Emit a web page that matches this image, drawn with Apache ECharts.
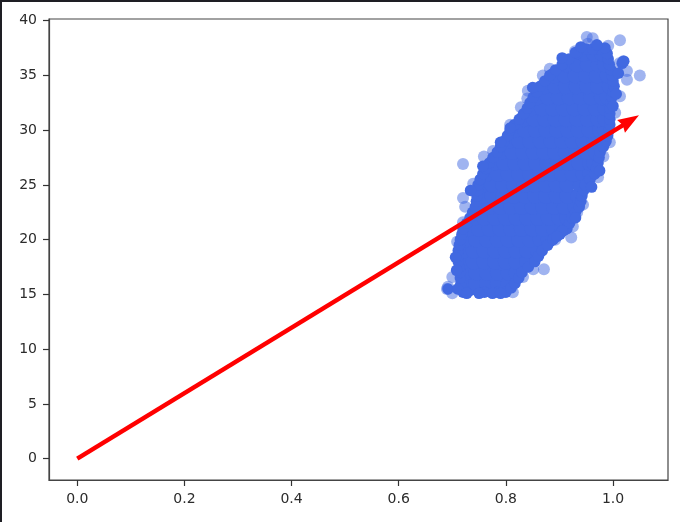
<!DOCTYPE html>
<html><head><meta charset="utf-8">
<style>html,body{margin:0;padding:0;background:#fff;overflow:hidden}
#c{position:absolute;left:0;top:0;width:680px;height:522px}
#t{position:absolute;left:0;top:0;width:680px;height:2px;background:#1e1e24}
#l{position:absolute;left:0;top:0;width:2px;height:522px;background:#1e1e24}</style>
<script src="https://cdn.jsdelivr.net/npm/echarts@6/dist/echarts.min.js"></script>
</head><body><div id="c"></div><div id="t"></div><div id="l"></div>
<script>
const xTicks=[0,0.2,0.4,0.6,0.8,1.0];
const yTicks=[0,5,10,15,20,25,30,35,40];
const xRange=[-0.0528,1.1026];
const yRange=[-1.945,40.15];
const arrowFrom=[0,0];
const arrowHead=[1.0317,30.85];
const loosePoints=[[0.72,26.9],[1.013,38.2],[1.05,35],[0.951,38.5],[0.962,38.4],[0.953,37.9],[1.019,36.3],[1.012,36.1],[1.026,35.4],[1.026,34.6],[1.013,33.1],[1.004,31.6],[0.994,28.9],[0.982,27.6],[0.882,35.6],[0.869,35],[0.841,33.6],[0.84,32.9],[0.828,32.1],[0.808,30.5],[0.759,27.6],[0.776,28.1],[0.929,37.2],[0.991,37.7],[0.72,23.8],[0.739,25.1],[0.871,17.3],[0.922,20.2],[0.972,25.7],[0.944,23.2],[0.933,22.5],[0.925,21.2],[0.892,20],[0.832,16.6],[0.813,15.2],[0.851,17.3],[0.70,16.6],[0.69,15.5],[0.692,15.7],[0.70,15.1],[0.709,19.8],[0.724,23],[0.72,21.6]];
const leftEdge=[[0.72,15.2],[0.718,15.6],[0.716,16],[0.715,16.5],[0.715,17],[0.713,17.5],[0.711,18],[0.711,18.5],[0.711,19],[0.713,19.5],[0.715,20],[0.718,20.5],[0.72,21],[0.727,21.5],[0.733,22],[0.738,22.5],[0.743,23],[0.745,23.5],[0.746,24],[0.747,24.5],[0.748,25],[0.752,25.5],[0.757,26],[0.763,26.5],[0.769,27],[0.776,27.5],[0.784,28],[0.79,28.5],[0.797,29],[0.803,29.5],[0.808,30],[0.816,30.5],[0.825,31],[0.833,31.5],[0.84,32],[0.845,32.5],[0.851,33],[0.858,33.5],[0.864,34],[0.873,34.5],[0.882,35],[0.893,35.5],[0.905,36],[0.918,36.5],[0.933,37],[0.95,37.4]];
const rightEdge=[[0.76,15.2],[0.785,15.2],[0.80,15.2],[0.81,15.6],[0.817,16],[0.824,16.5],[0.83,17],[0.842,17.5],[0.854,18],[0.861,18.5],[0.868,19],[0.878,19.5],[0.888,20],[0.901,20.5],[0.914,21],[0.919,21.5],[0.923,22],[0.93,22.5],[0.937,23],[0.94,23.5],[0.942,24],[0.945,24.5],[0.948,25],[0.957,25.5],[0.966,26],[0.969,26.5],[0.972,27],[0.974,27.5],[0.976,28],[0.982,28.5],[0.987,29],[0.99,29.5],[0.993,30],[0.994,30.5],[0.994,31],[0.994,31.5],[0.994,32],[0.996,32.5],[0.998,33],[1.0,33.5],[1.002,34],[1.0,34.5],[0.998,35],[0.996,35.5],[0.993,36],[0.991,36.5],[0.989,37],[0.975,37.4],[0.962,37.4]];
const bumpPoints=[[0.905,36.6],[0.93,37.1],[0.85,33.9],[0.79,28.9],[0.808,30.2],[0.757,26.7],[0.734,24.5],[0.706,18.4],[0.708,17.2],[0.692,15.5],[0.71,15.5],[0.727,15.1],[0.75,15.1],[0.775,15.1],[0.79,15.1],[1.017,36.1],[1.02,36.3],[1.01,35.2],[1.006,33.3],[1.0,32.2],[0.985,37.5],[0.97,37.8],[0.94,37.6],[0.905,20.8],[0.895,20.3],[0.93,22],[0.96,24.8],[0.975,26.3]];
const corePoints=[
[0.73,15.5],[0.75,15.5],[0.77,15.5],[0.79,15.5],
[0.725,16],[0.745,16],[0.765,16],[0.785,16],[0.805,16],
[0.725,17],[0.745,17],[0.765,17],[0.785,17],[0.805,17],[0.82,17],
[0.72,18],[0.74,18],[0.76,18],[0.78,18],[0.80,18],[0.82,18],[0.84,18],
[0.72,19],[0.74,19],[0.76,19],[0.78,19],[0.80,19],[0.82,19],[0.84,19],[0.86,19],
[0.725,20],[0.745,20],[0.765,20],[0.785,20],[0.805,20],[0.825,20],[0.845,20],[0.865,20],[0.88,20],
[0.73,21],[0.75,21],[0.77,21],[0.79,21],[0.81,21],[0.83,21],[0.85,21],[0.87,21],[0.89,21],[0.905,21],
[0.74,22],[0.76,22],[0.78,22],[0.80,22],[0.82,22],[0.84,22],[0.86,22],[0.88,22],[0.90,22],[0.915,22],
[0.75,23],[0.77,23],[0.79,23],[0.81,23],[0.83,23],[0.85,23],[0.87,23],[0.89,23],[0.91,23],[0.93,23],
[0.755,24],[0.775,24],[0.795,24],[0.815,24],[0.835,24],[0.855,24],[0.875,24],[0.895,24],[0.915,24],[0.935,24],
[0.755,25],[0.775,25],[0.795,25],[0.815,25],[0.835,25],[0.855,25],[0.875,25],[0.895,25],[0.915,25],[0.94,25],
[0.765,26],[0.785,26],[0.805,26],[0.825,26],[0.845,26],[0.865,26],[0.885,26],[0.905,26],[0.925,26],[0.945,26],[0.958,26],
[0.777,27],[0.797,27],[0.817,27],[0.837,27],[0.857,27],[0.877,27],[0.897,27],[0.917,27],[0.937,27],[0.957,27],[0.965,27],
[0.792,28],[0.812,28],[0.832,28],[0.852,28],[0.872,28],[0.892,28],[0.912,28],[0.932,28],[0.952,28],[0.968,28],
[0.805,29],[0.825,29],[0.845,29],[0.865,29],[0.885,29],[0.905,29],[0.925,29],[0.945,29],[0.965,29],[0.98,29],
[0.816,30],[0.836,30],[0.856,30],[0.876,30],[0.896,30],[0.916,30],[0.936,30],[0.956,30],[0.976,30],[0.985,30],
[0.833,31],[0.853,31],[0.873,31],[0.893,31],[0.913,31],[0.933,31],[0.953,31],[0.973,31],[0.986,31],
[0.848,32],[0.868,32],[0.888,32],[0.908,32],[0.928,32],[0.948,32],[0.968,32],[0.986,32],
[0.859,33],[0.879,33],[0.899,33],[0.919,33],[0.939,33],[0.959,33],[0.979,33],[0.99,33],
[0.872,34],[0.892,34],[0.912,34],[0.932,34],[0.952,34],[0.972,34],[0.994,34],
[0.89,35],[0.91,35],[0.93,35],[0.95,35],[0.97,35],[0.99,35],
[0.913,36],[0.933,36],[0.953,36],[0.973,36],[0.985,36],
[0.945,37],[0.965,37],[0.98,37]
];
const solid='#4169e1';
const ink='#2b2b2b';
const chart=echarts.init(document.getElementById('c'),null,{renderer:'canvas'});
const axisCommon={axisLine:{onZero:false,show:true,lineStyle:{color:'#444',width:1.2}},
  axisTick:{show:true,length:6,lineStyle:{color:'#333',width:1.2}},splitLine:{show:false}};
chart.setOption({animation:false,
 grid:{left:49,right:12,top:19,bottom:42,show:true,borderColor:'#444',borderWidth:1.2,backgroundColor:'#fff'},
 xAxis:{type:'value',min:xRange[0],max:xRange[1],...axisCommon,
  axisTick:{...axisCommon.axisTick,customValues:xTicks},
  axisLabel:{customValues:xTicks,color:ink,fontFamily:'DejaVu Sans',fontSize:14,margin:12,formatter:v=>v.toFixed(1)}},
 yAxis:{type:'value',min:yRange[0],max:yRange[1],...axisCommon,
  axisTick:{...axisCommon.axisTick,customValues:yTicks},
  axisLabel:{customValues:yTicks,color:ink,fontFamily:'DejaVu Sans',fontSize:14,margin:12,formatter:v=>String(v)}},
 series:[
  {name:'loose',type:'scatter',data:loosePoints,symbolSize:12,silent:true,itemStyle:{color:solid,opacity:0.5},z:2},
  {name:'core',type:'scatter',data:corePoints,symbolSize:16,silent:true,itemStyle:{color:solid,opacity:1},z:3},
  {name:'edge',type:'scatter',data:leftEdge.concat(rightEdge,bumpPoints),symbolSize:11.5,silent:true,itemStyle:{color:solid,opacity:1},z:3,
   markLine:{silent:true,animation:false,z:5,label:{show:false},symbol:['none','none'],
    emphasis:{disabled:true},
    data:[
     [{coord:arrowFrom,symbol:'none',lineStyle:{color:'#ff0000',width:4.5,type:'solid',cap:'butt'},itemStyle:{color:'#ff0000'}},
      {coord:arrowHead,symbol:'path://M0 0 L10 20 L0 18 L-10 20 Z',symbolSize:[15,21]}]
    ]}}
 ]});
</script></body></html>
